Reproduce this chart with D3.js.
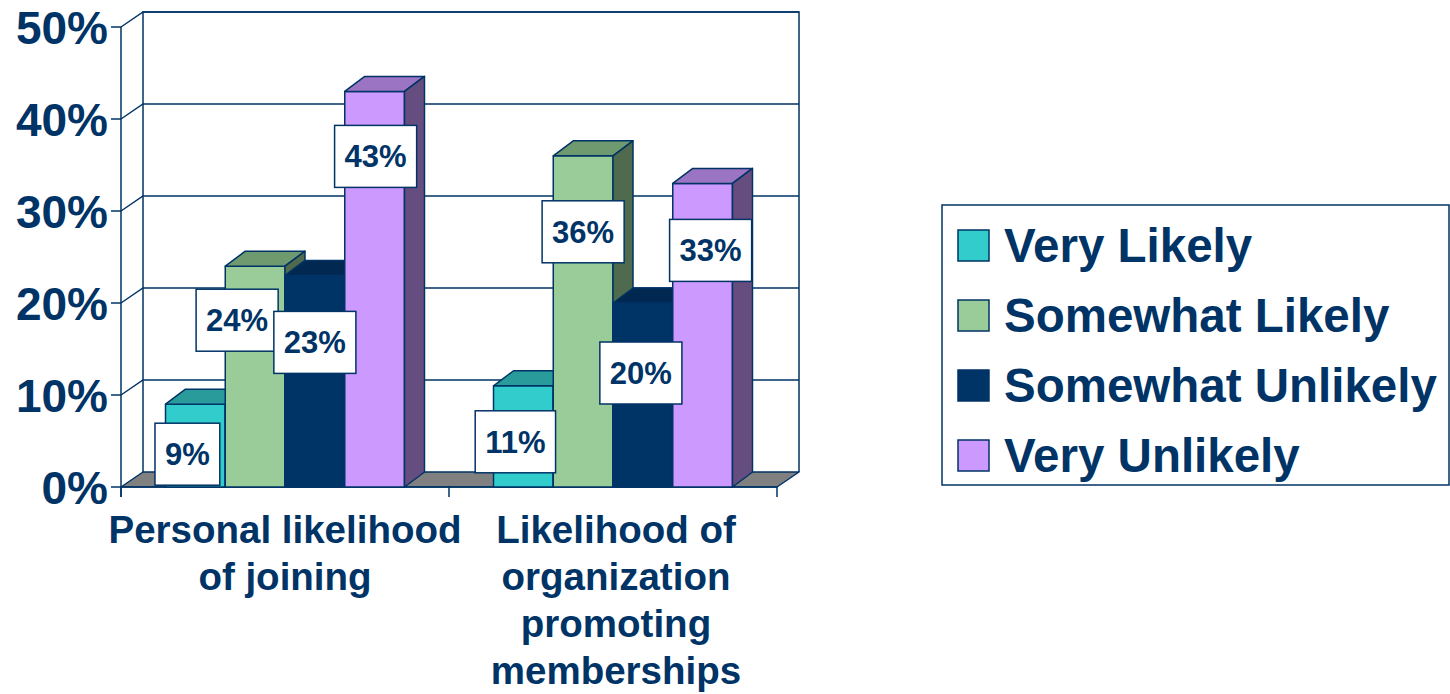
<!DOCTYPE html>
<html>
<head>
<meta charset="utf-8">
<script src="https://cdn.jsdelivr.net/npm/d3@7"></script>
<style>
  html, body { margin: 0; padding: 0; background: #ffffff; }
  svg { display: block; }
  text { font-family: "Liberation Sans", Arial, sans-serif; font-weight: bold; fill: #003366; }
</style>
</head>
<body>
<svg id="chart" width="1450" height="694"></svg>
<script>
// Survey results: likelihood of joining / of the organization promoting memberships
const categories = [
  ["Personal likelihood", "of joining"],
  ["Likelihood of", "organization", "promoting", "memberships"]
];
const series = ["Very Likely", "Somewhat Likely", "Somewhat Unlikely", "Very Unlikely"];
const personalValues = [0.09, 0.24, 0.23, 0.43];
const organizationValues = [0.11, 0.36, 0.20, 0.33];
const yTicks = [0, 0.1, 0.2, 0.3, 0.4, 0.5];

// Face colours per series: front, top, side
const frontColors = ["#33cccc", "#99cc99", "#003366", "#cc99ff"];
const topColors   = ["#2a9b9b", "#6f9a6f", "#002850", "#9b74c4"];
const sideColors  = ["#217b7b", "#4f6a4c", "#001f40", "#664d80"];

// Small nudges for the value callouts so they don't collide
const labelNudge = [
  [[-8, 50], [-18, 54], [0, 67], [1, 65]],
  [[-8, 56], [0, 76], [-2, 70], [8, 67]]
];

const ink = "#003366";
const svg = d3.select("#chart");

const plotLeft = 121, plotRight = 777, plotTop = 27, plotBottom = 487;
const wallDx = 22, wallDy = -15;   // depth of the wall / floor
const barDx = 20, barDy = -15;     // depth of each column

const y = d3.scaleLinear().domain([0, 0.5]).range([plotBottom, plotTop]);
const catIdx = categories.map((_, i) => i);
const x0 = d3.scaleBand().domain(catIdx).range([plotLeft, plotRight]).padding(0);
const x1 = d3.scaleBand().domain(series).range([0, x0.bandwidth()])
  .paddingInner(0).paddingOuter(0.745);

const rows = [personalValues, organizationValues];

const line = d3.line();

// ---- back wall and side wall gridlines ----
const wall = svg.append("g")
  .attr("fill", "none").attr("stroke", ink).attr("stroke-width", 1.5);

yTicks.forEach(t => {
  const yf = y(t), yb = y(t) + wallDy;
  if (t > 0) {
    wall.append("path").attr("d", line([[plotLeft, yf], [plotLeft + wallDx, yb], [plotRight + wallDx, yb]]));
  }
});
// wall outline
wall.append("path").attr("d", line([
  [plotLeft + wallDx, y(0) + wallDy],
  [plotLeft + wallDx, y(0.5) + wallDy],
  [plotRight + wallDx, y(0.5) + wallDy],
  [plotRight + wallDx, y(0) + wallDy]
]));

// ---- floor ----
svg.append("path")
  .attr("d", line([
    [plotLeft, y(0)], [plotLeft + wallDx, y(0) + wallDy],
    [plotRight + wallDx, y(0) + wallDy], [plotRight, y(0)]
  ]) + "Z")
  .attr("fill", "#808080").attr("stroke", ink).attr("stroke-width", 1.5)
  .attr("stroke-linejoin", "round");

// ---- front axis ----
const axisG = svg.append("g").attr("stroke", ink).attr("stroke-width", 1.5).attr("fill", "none");
axisG.append("path").attr("d", line([[plotLeft, y(0.5)], [plotLeft, y(0) + 10]]));
axisG.append("path").attr("d", line([[plotLeft, y(0)], [plotRight, y(0)]]));
yTicks.forEach(t => {
  axisG.append("path").attr("d", line([[plotLeft - 10, y(t)], [plotLeft, y(t)]]));
});
// category separators below the floor
[plotLeft, ...catIdx.map(i => x0(i) + x0.bandwidth())].forEach(xx => {
  axisG.append("path").attr("d", line([[xx, y(0)], [xx, y(0) + 10]]));
});

svg.append("g").selectAll("text").data(yTicks).join("text")
  .attr("x", plotLeft - 13)
  .attr("y", d => y(d) + 16.5)
  .attr("text-anchor", "end")
  .attr("font-size", 46)
  .text(d => d3.format(".0%")(d));

// ---- columns ----
const bars = svg.append("g").attr("stroke", ink).attr("stroke-width", 1.5).attr("stroke-linejoin", "round");
rows.forEach((vals, ci) => {
  vals.forEach((v, si) => {
    const xl = x0(ci) + x1(series[si]);
    const xr = xl + x1.bandwidth();
    const yt = y(v), yb = y(0);
    bars.append("rect")
      .attr("x", xl).attr("y", yt).attr("width", xr - xl).attr("height", yb - yt)
      .attr("fill", frontColors[si]);
    bars.append("path")
      .attr("d", line([[xl, yt], [xl + barDx, yt + barDy], [xr + barDx, yt + barDy], [xr, yt]]) + "Z")
      .attr("fill", topColors[si]);
    bars.append("path")
      .attr("d", line([[xr, yt], [xr + barDx, yt + barDy], [xr + barDx, yb + barDy], [xr, yb]]) + "Z")
      .attr("fill", sideColors[si]);
  });
});

// ---- value callouts ----
const labels = svg.append("g");
rows.forEach((vals, ci) => {
  vals.forEach((v, si) => {
    const cx = x0(ci) + x1(series[si]) + x1.bandwidth() / 2 + labelNudge[ci][si][0];
    const cy = y(v) + labelNudge[ci][si][1];
    const txt = d3.format(".0%")(v);
    const g = labels.append("g");
    const t = g.append("text")
      .attr("x", cx).attr("y", cy + 11)
      .attr("text-anchor", "middle")
      .attr("font-size", 31)
      .text(txt);
    const w = t.node().getComputedTextLength() + 20;
    g.insert("rect", "text")
      .attr("x", cx - w / 2).attr("y", cy - 31).attr("width", w).attr("height", 62)
      .attr("fill", "#ffffff").attr("stroke", ink).attr("stroke-width", 1.5);
  });
});

// ---- category labels ----
const catG = svg.append("g");
categories.forEach((linesArr, ci) => {
  const cx = x0(ci) + x0.bandwidth() / 2 + (ci === 1 ? 3 : 0);
  linesArr.forEach((ln, li) => {
    catG.append("text")
      .attr("x", cx).attr("y", 543 + li * 47)
      .attr("text-anchor", "middle")
      .attr("font-size", 38.5)
      .text(ln);
  });
});

// ---- legend ----
const legend = svg.append("g");
legend.append("rect")
  .attr("x", 942).attr("y", 205).attr("width", 507).attr("height", 280)
  .attr("fill", "#ffffff").attr("stroke", ink).attr("stroke-width", 1.5);
series.forEach((s, i) => {
  const cy = 245 + i * 70;
  legend.append("rect")
    .attr("x", 958).attr("y", cy - 15).attr("width", 31).attr("height", 31)
    .attr("fill", frontColors[i]).attr("stroke", ink).attr("stroke-width", 1.5);
  legend.append("text")
    .attr("x", 1004).attr("y", cy + 17)
    .attr("font-size", 47.5)
    .text(s);
});
</script>
</body>
</html>
